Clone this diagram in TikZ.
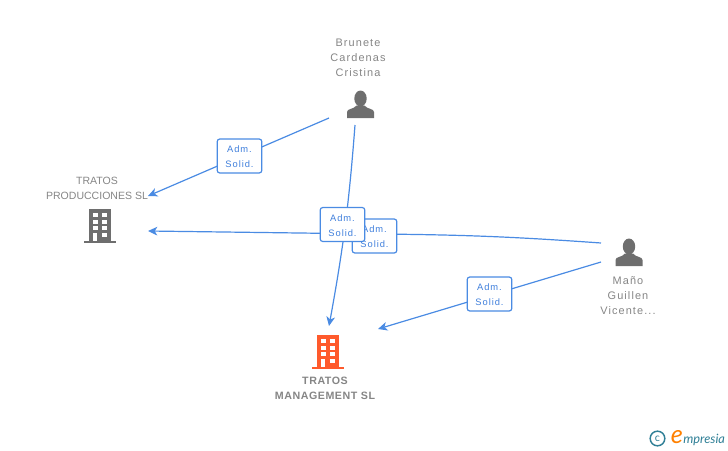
\documentclass[tikz,border=0pt]{standalone}
\usepackage{fontspec}
\usetikzlibrary{arrows.meta}
\setmainfont{Liberation Sans}
\newfontfamily\spacedfont[LetterSpace=10]{Liberation Sans}
\newfontfamily\boldcapsfont[LetterSpace=5]{Liberation Sans}
\newfontfamily\logofont{Lato}
\definecolor{linkblue}{HTML}{4A8BE3}
\definecolor{labelblue}{HTML}{3F7FDC}
\definecolor{textgrey}{HTML}{858585}
\definecolor{icongrey}{HTML}{6E6E6E}
\definecolor{mainorange}{HTML}{FF5A2C}
\definecolor{logoteal}{HTML}{2F7F96}
\tikzset{
	link/.style={draw=linkblue,line width=0.9pt},
	arrowlink/.style={link,-{Stealth[length=7pt,width=6.5pt,inset=2pt]}},
	rolebox/.style={rectangle,draw=linkblue,fill=white,line width=0.9pt,rounded corners=2pt,minimum width=33.5pt,minimum height=25.5pt,inner sep=0pt,align=center,text=labelblue,font=\spacedfont\fontsize{7}{11.2}\selectfont,text height=17.7pt,text depth=0pt},
	caption/.style={align=center,text=textgrey,inner sep=0pt,font=\spacedfont\fontsize{8.2}{11.25}\selectfont},
	capscaption/.style={caption,font=\fontsize{7.9}{11.25}\selectfont},
	person/.pic={
		\fill[icongrey] (0,-19.5) ellipse (6.2 and 8);
		\fill[icongrey] (-13.5,0) -- (-13.5,-6) .. controls (-13.5,-9.5) and (-7,-8.5) .. (-4,-12.5) -- (4,-12.5) .. controls (7,-8.5) and (13.5,-9.5) .. (13.5,-6) -- (13.5,0) -- cycle;
	},
	building/.pic={
		\fill[pic actions] (-16,-2) rectangle (16,0);
		\fill[pic actions] (-11,-34) rectangle (11,-2);
		\foreach \rowy in {-30,-23.5,-17}{
			\fill[white] (-7.2,\rowy) rectangle (-2.4,\rowy+4.4);
			\fill[white] (2.4,\rowy) rectangle (7.2,\rowy+4.4);
		}
		\fill[white] (2.4,-10.5) rectangle (7.2,-6);
		\fill[white] (-6.8,-10.5) rectangle (-2.8,-2);
	},
}
\begin{document}
\begin{tikzpicture}[x=0.75pt,y=-0.75pt]

	\useasboundingbox (0,0) rectangle (728,450);

	% free ends of the connectors
	\coordinate (brunetefoot) at (329,118);
	\coordinate (brunetedown) at (355,125);
	\coordinate (manotop) at (601,243);
	\coordinate (manofoot) at (601,262);
	\coordinate (crossing) at (375,234);
	\coordinate (producciontop) at (148,196);
	\coordinate (produccionmid) at (148,231);
	\coordinate (managementtop) at (329,326);
	\coordinate (managementright) at (378,329);

	\draw[arrowlink] (brunetefoot) -- (producciontop);
	\draw[arrowlink] (manotop) to[bend right=1.8] (crossing) -- (produccionmid);
	\draw[arrowlink] (brunetedown) to[bend left=3] (managementtop);
	\draw[arrowlink] (manofoot) -- (managementright);

	\node(roleone) [rolebox] at (239.5,156) {Adm.\\Solid.};
	\node(rolethree) [rolebox] at (374.5,236) {Adm.\\Solid.};
	\node(roletwo) [rolebox] at (342.5,224.5) {Adm.\\Solid.};
	\node(rolefour) [rolebox] at (489.5,294) {Adm.\\Solid.};

	\node(brunete) [caption] at (358,58) {Brunete\\Cardenas\\Cristina};
	\node(produccion) [capscaption] at (97,188.5) {TRATOS\\PRODUCCIONES SL};
	\node(mano) [caption] at (628,296) {Maño\\Guillen\\Vicente...};
	\node(management) [capscaption,font=\boldcapsfont\bfseries\fontsize{8}{11.25}\selectfont] at (325,388.5) {TRATOS\\MANAGEMENT SL};

	\pic at (360.5,118) {person};
	\pic at (629,266) {person};
	\pic[fill=icongrey] at (100,243) {building};
	\pic[fill=mainorange] at (328,369) {building};

	\node(logoc) [circle,draw=logoteal,line width=1.1pt,minimum size=11pt,inner sep=0pt,text=logoteal,font=\logofont\fontsize{8}{8}\selectfont] at (657.5,438.5) {c};
	\node(logoe) [inner sep=0pt,text=orange,font=\logofont\itshape\fontsize{19}{19}\selectfont] at (677,437) {e};
	\node(logoname) [inner sep=0pt,anchor=west,text=logoteal,font=\logofont\itshape\fontsize{9.6}{9.6}\selectfont] at (683,439.5) {mpresia};

\end{tikzpicture}
\end{document}
